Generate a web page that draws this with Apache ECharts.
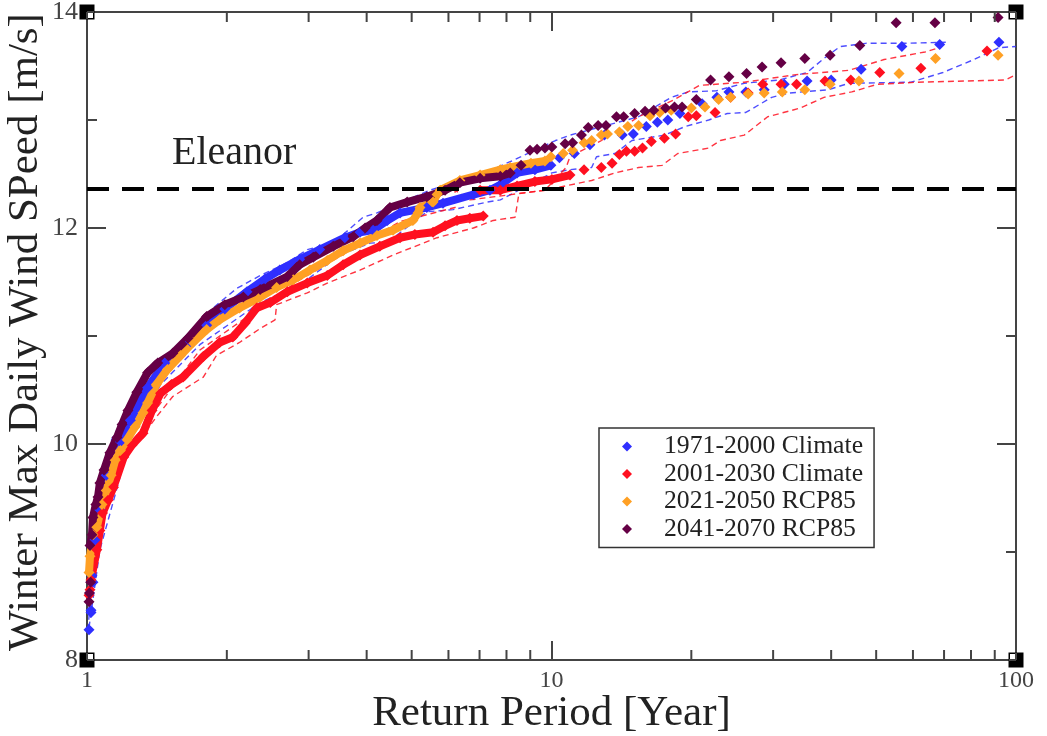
<!DOCTYPE html>
<html>
<head>
<meta charset="utf-8">
<title>Winter Max Daily Wind Speed</title>
<script src="https://cdn.jsdelivr.net/npm/echarts@6/dist/echarts.min.js"></script>
<style>
html, body { margin: 0; padding: 0; background: #fff; }
#chart { width: 1047px; height: 736px; }
</style>
</head>
<body>
<div id="chart"></div>
<script>
const seriesNames = [ '1971-2000 Climate', '2001-2030 Climate', '2021-2050 RCP85', '2041-2070 RCP85' ];
const minorXTicks = [ 2, 3, 4, 5, 6, 7, 8, 9, 20, 30, 40, 50, 60, 70, 80, 90 ];
const cornerPoints = [ [ 1, 8 ], [ 100, 8 ], [ 1, 14 ], [ 100, 14 ] ];
const eleanorLine = [ [ 1, 12.36 ], [ 100, 12.36 ] ];

// Dense part of each curve, where the markers merge into a band: [ return period, wind speed ]
const blueBand = [ [ 1.04, 9.11 ], [ 1.066, 9.39 ], [ 1.1, 9.71 ], [ 1.18, 10.02 ], [ 1.24, 10.22 ], [ 1.35, 10.52 ], [ 1.47, 10.75 ], [ 1.67, 10.95 ], [ 1.81, 11.1 ], [ 1.98, 11.25 ], [ 2.21, 11.41 ], [ 2.42, 11.53 ], [ 2.6, 11.61 ], [ 2.87, 11.71 ], [ 3.17, 11.8 ], [ 3.59, 11.91 ], [ 3.87, 11.96 ], [ 4.13, 11.98 ], [ 4.43, 12.07 ], [ 4.72, 12.14 ], [ 5.39, 12.19 ], [ 5.84, 12.23 ], [ 6.79, 12.31 ], [ 7.37, 12.35 ], [ 7.76, 12.4 ], [ 8.43, 12.51 ], [ 9.21, 12.54 ], [ 9.97, 12.58 ] ];
const redBand = [ [ 1.02, 8.74 ], [ 1.05, 9.02 ], [ 1.066, 9.2 ], [ 1.08, 9.36 ], [ 1.11, 9.48 ], [ 1.14, 9.6 ], [ 1.2, 9.88 ], [ 1.25, 9.99 ], [ 1.32, 10.1 ], [ 1.38, 10.31 ], [ 1.44, 10.47 ], [ 1.52, 10.55 ], [ 1.61, 10.62 ], [ 1.78, 10.81 ], [ 1.93, 10.94 ], [ 2.06, 10.99 ], [ 2.19, 11.12 ], [ 2.32, 11.26 ], [ 2.48, 11.31 ], [ 2.7, 11.41 ], [ 2.98, 11.49 ], [ 3.29, 11.56 ], [ 3.56, 11.66 ], [ 3.87, 11.75 ], [ 4.27, 11.83 ], [ 4.72, 11.91 ], [ 5.08, 11.94 ], [ 5.56, 11.96 ], [ 5.9, 12.02 ], [ 6.26, 12.07 ], [ 6.67, 12.09 ], [ 7.13, 12.11 ] ];
const redBandUpper = [ [ 7.02, 12.35 ], [ 7.76, 12.35 ], [ 8.43, 12.39 ], [ 9.21, 12.43 ], [ 10.02, 12.45 ], [ 10.96, 12.49 ] ];
const orangeBand = [ [ 1.01, 8.81 ], [ 1.015, 8.96 ], [ 1.03, 9.16 ], [ 1.05, 9.23 ], [ 1.077, 9.44 ], [ 1.1, 9.57 ], [ 1.127, 9.71 ], [ 1.15, 9.85 ], [ 1.18, 9.94 ], [ 1.22, 10.04 ], [ 1.27, 10.16 ], [ 1.32, 10.29 ], [ 1.35, 10.38 ], [ 1.41, 10.55 ], [ 1.49, 10.69 ], [ 1.59, 10.82 ], [ 1.69, 10.94 ], [ 1.81, 11.06 ], [ 1.93, 11.15 ], [ 2.13, 11.26 ], [ 2.36, 11.36 ], [ 2.56, 11.45 ], [ 2.78, 11.52 ], [ 3.02, 11.61 ], [ 3.29, 11.7 ], [ 3.56, 11.79 ], [ 3.87, 11.86 ], [ 4.21, 11.93 ], [ 4.56, 11.98 ], [ 5.03, 12.07 ], [ 5.16, 12.14 ], [ 5.21, 12.19 ], [ 5.56, 12.24 ], [ 5.67, 12.31 ], [ 5.76, 12.35 ], [ 6.35, 12.44 ], [ 7.02, 12.49 ], [ 7.76, 12.54 ], [ 8.15, 12.56 ], [ 9.03, 12.6 ], [ 9.68, 12.62 ] ];
const purpleBand = [ [ 1.015, 9.06 ], [ 1.025, 9.16 ], [ 1.03, 9.32 ], [ 1.045, 9.44 ], [ 1.056, 9.51 ], [ 1.066, 9.64 ], [ 1.088, 9.76 ], [ 1.12, 9.92 ], [ 1.16, 10.06 ], [ 1.19, 10.18 ], [ 1.225, 10.31 ], [ 1.28, 10.48 ], [ 1.35, 10.66 ], [ 1.42, 10.75 ], [ 1.53, 10.84 ], [ 1.65, 10.98 ], [ 1.81, 11.18 ], [ 1.98, 11.29 ], [ 2.17, 11.36 ], [ 2.36, 11.43 ], [ 2.7, 11.55 ], [ 2.87, 11.66 ], [ 3.07, 11.73 ], [ 3.39, 11.83 ], [ 3.74, 11.92 ], [ 3.97, 12 ], [ 4.21, 12.07 ], [ 4.49, 12.19 ], [ 4.89, 12.24 ], [ 5.39, 12.29 ], [ 5.9, 12.35 ], [ 6.35, 12.42 ], [ 7.02, 12.46 ], [ 7.76, 12.48 ], [ 8.15, 12.51 ] ];

// Separate markers at both ends of each curve
const bluePoints = [ [ 1.01, 8.28 ], [ 1.02, 8.44 ], [ 1.02, 8.46 ], [ 1.03, 8.72 ], [ 1.025, 8.78 ], [ 10.4, 12.65 ], [ 11.2, 12.69 ], [ 12.1, 12.77 ], [ 13, 12.86 ], [ 14.2, 12.86 ], [ 15, 12.87 ], [ 16, 12.94 ], [ 16.9, 12.98 ], [ 17.8, 13 ], [ 18.9, 13.06 ], [ 21.1, 13.15 ], [ 22.7, 13.21 ], [ 24.1, 13.26 ], [ 26.2, 13.26 ], [ 28.7, 13.28 ], [ 31.7, 13.33 ], [ 35.5, 13.36 ], [ 40, 13.37 ], [ 46.4, 13.47 ], [ 56.8, 13.68 ], [ 68.5, 13.7 ], [ 91.9, 13.72 ] ];
const redPoints = [ [ 1.01, 8.6 ], [ 1.015, 8.65 ], [ 11.75, 12.54 ], [ 12.8, 12.56 ], [ 13.5, 12.6 ], [ 14, 12.68 ], [ 14.5, 12.71 ], [ 15.1, 12.71 ], [ 15.7, 12.74 ], [ 16.4, 12.8 ], [ 17.5, 12.83 ], [ 18.5, 12.87 ], [ 19.7, 13.03 ], [ 20.5, 13.04 ], [ 22.5, 13.07 ], [ 24.3, 13.21 ], [ 26.5, 13.25 ], [ 28.5, 13.33 ], [ 31.2, 13.33 ], [ 33.7, 13.33 ], [ 38.8, 13.36 ], [ 44.1, 13.37 ], [ 50.9, 13.44 ], [ 62.4, 13.48 ], [ 86.6, 13.64 ] ];
const orangePoints = [ [ 9.97, 12.66 ], [ 10.6, 12.69 ], [ 11.1, 12.72 ], [ 11.75, 12.79 ], [ 12.2, 12.81 ], [ 12.8, 12.86 ], [ 13.2, 12.87 ], [ 14, 12.89 ], [ 14.6, 12.94 ], [ 15.4, 12.95 ], [ 16.3, 13.04 ], [ 17.1, 13.07 ], [ 18.1, 13.09 ], [ 20, 13.11 ], [ 21.4, 13.12 ], [ 22.9, 13.19 ], [ 24.3, 13.21 ], [ 26.5, 13.24 ], [ 28.7, 13.25 ], [ 31.4, 13.26 ], [ 35.1, 13.28 ], [ 39.8, 13.33 ], [ 45.9, 13.36 ], [ 56, 13.43 ], [ 67.1, 13.57 ], [ 91.5, 13.6 ] ];
const purplePoints = [ [ 1.01, 8.54 ], [ 1.012, 8.62 ], [ 1.018, 8.72 ], [ 8.6, 12.58 ], [ 8.99, 12.72 ], [ 9.31, 12.73 ], [ 9.68, 12.74 ], [ 10.02, 12.75 ], [ 10.7, 12.78 ], [ 11.1, 12.79 ], [ 11.6, 12.86 ], [ 12, 12.93 ], [ 12.6, 12.95 ], [ 13.1, 12.95 ], [ 13.8, 13.03 ], [ 14.3, 13.03 ], [ 15.1, 13.06 ], [ 15.9, 13.08 ], [ 16.6, 13.09 ], [ 17.6, 13.11 ], [ 18.4, 13.12 ], [ 19.1, 13.12 ], [ 20.5, 13.19 ], [ 22, 13.37 ], [ 24.1, 13.4 ], [ 26.3, 13.43 ], [ 28.4, 13.49 ], [ 31.2, 13.53 ], [ 35.1, 13.57 ], [ 39.8, 13.6 ], [ 46.1, 13.69 ], [ 55.2, 13.9 ], [ 66.9, 13.9 ], [ 91.5, 13.95 ] ];

// Thin dashed limits
const blueUpper = [ [ 1.005, 8.28 ], [ 1.02, 8.65 ], [ 1.045, 9.11 ], [ 1.08, 9.57 ], [ 1.13, 10.04 ], [ 1.24, 10.36 ], [ 1.44, 10.73 ], [ 1.65, 11.01 ], [ 1.78, 11.18 ], [ 1.93, 11.31 ], [ 2.1, 11.44 ], [ 2.36, 11.56 ], [ 2.7, 11.68 ], [ 2.98, 11.8 ], [ 3.39, 11.86 ], [ 3.93, 12.1 ], [ 4.21, 12.14 ], [ 5.47, 12.35 ], [ 7.02, 12.49 ], [ 8.6, 12.66 ], [ 10.2, 12.81 ], [ 10.96, 12.86 ], [ 15.4, 13.03 ], [ 18.1, 13.21 ], [ 19.7, 13.26 ], [ 22.6, 13.27 ], [ 26, 13.34 ], [ 30.9, 13.37 ], [ 35.5, 13.44 ], [ 38.6, 13.57 ], [ 41.8, 13.68 ], [ 47.5, 13.71 ], [ 56.5, 13.71 ], [ 70.6, 13.72 ] ];
const blueLower = [ [ 1.01, 8.3 ], [ 1.066, 9.02 ], [ 1.24, 10.04 ], [ 1.44, 10.55 ], [ 1.75, 10.92 ], [ 2.36, 11.31 ], [ 2.87, 11.47 ], [ 3.5, 11.75 ], [ 4.07, 11.86 ], [ 4.45, 11.87 ], [ 5.39, 12.15 ], [ 6.14, 12.17 ], [ 7.27, 12.24 ], [ 7.76, 12.26 ], [ 10.02, 12.51 ], [ 10.96, 12.54 ], [ 12.2, 12.56 ], [ 12.5, 12.66 ], [ 13.7, 12.69 ], [ 14.9, 12.81 ], [ 17.5, 12.86 ], [ 19.4, 12.94 ], [ 21.8, 13 ], [ 23.9, 13.06 ], [ 26.2, 13.07 ], [ 29.8, 13.21 ], [ 32.5, 13.25 ], [ 39.4, 13.28 ], [ 43.7, 13.34 ], [ 59.4, 13.35 ], [ 69.6, 13.44 ], [ 81.2, 13.56 ], [ 91.9, 13.67 ], [ 100, 13.68 ] ];
const redUpper = [ [ 1.015, 8.65 ], [ 1.066, 9.3 ], [ 1.15, 9.81 ], [ 1.75, 10.87 ], [ 2.87, 11.52 ], [ 4.72, 12.06 ], [ 6.2, 12.19 ], [ 6.2, 12.35 ], [ 6.67, 12.26 ], [ 9.68, 12.35 ], [ 10.75, 12.56 ], [ 10.96, 12.66 ], [ 12.8, 12.81 ], [ 15.4, 13.03 ], [ 18.4, 13.19 ], [ 20.8, 13.32 ], [ 26, 13.35 ], [ 33.6, 13.42 ], [ 43.7, 13.46 ], [ 52, 13.56 ], [ 63.7, 13.63 ], [ 68.3, 13.67 ] ];
const redLower = [ [ 1.025, 8.65 ], [ 1.09, 9.3 ], [ 1.15, 9.67 ], [ 1.2, 9.88 ], [ 1.3, 10.04 ], [ 1.41, 10.25 ], [ 1.53, 10.44 ], [ 1.78, 10.62 ], [ 1.9, 10.82 ], [ 2.13, 10.94 ], [ 2.36, 11.07 ], [ 2.54, 11.15 ], [ 2.56, 11.29 ], [ 2.98, 11.4 ], [ 3.29, 11.49 ], [ 3.87, 11.61 ], [ 4.56, 11.75 ], [ 5.67, 11.91 ], [ 6.79, 12 ], [ 7.49, 12.07 ], [ 8.35, 12.1 ], [ 8.43, 12.09 ], [ 8.51, 12.32 ], [ 9.68, 12.35 ], [ 12.2, 12.44 ], [ 13.7, 12.51 ], [ 15.4, 12.56 ], [ 17.3, 12.58 ], [ 18.7, 12.69 ], [ 21.8, 12.74 ], [ 23.1, 12.81 ], [ 26, 12.86 ], [ 29.2, 13.03 ], [ 34.3, 13.11 ], [ 38.6, 13.21 ], [ 44.3, 13.26 ], [ 50.2, 13.33 ], [ 61.5, 13.35 ], [ 94.7, 13.37 ], [ 100, 13.42 ] ];

const BLUE = '#2f2fff';
const RED = '#ff1020';
const ORANGE = '#ffa024';
const PURPLE = '#650045';
const INK = '#444';
const SERIF = '"Liberation Serif", serif';

const dashed = ( data, color ) => ( {
	type: 'line',
	data,
	symbol: 'none',
	lineStyle: { color, width: 1.4, type: [ 6, 4 ], opacity: 0.85 },
	z: 2
} );

const band = ( name, data, color ) => ( {
	name,
	type: 'line',
	data,
	symbol: 'diamond',
	symbolSize: 11,
	showAllSymbol: true,
	itemStyle: { color },
	lineStyle: { color, width: 8 },
	z: 3
} );

const markers = ( name, data, color ) => ( {
	name,
	type: 'scatter',
	data,
	symbol: 'diamond',
	symbolSize: 11,
	itemStyle: { color, opacity: 1 },
	z: 3
} );

// Log axes have no usable minor ticks, so they are drawn through the axis scale
const minorTicks = {
	type: 'custom',
	silent: true,
	clip: false,
	data: minorXTicks.map( ( v ) => [ v, 8 ] ),
	renderItem: ( params, api ) => {
		const bottom = api.coord( [ api.value( 0 ), 8 ] );
		const top = api.coord( [ api.value( 0 ), 14 ] );
		const style = { stroke: INK, lineWidth: 2 };
		return {
			type: 'group',
			children: [
				{ type: 'line', shape: { x1: bottom[ 0 ], y1: bottom[ 1 ], x2: bottom[ 0 ], y2: bottom[ 1 ] - 10 }, style },
				{ type: 'line', shape: { x1: top[ 0 ], y1: top[ 1 ], x2: top[ 0 ], y2: top[ 1 ] + 10 }, style }
			]
		};
	},
	z: 4
};

// Black handle squares on the frame corners, with a white notch on the inner side
const cornerHandles = {
	type: 'custom',
	silent: true,
	clip: false,
	data: cornerPoints,
	renderItem: ( params, api ) => {
		const [ x, y ] = api.coord( [ api.value( 0 ), api.value( 1 ) ] );
		const dirX = api.value( 0 ) === 1 ? 1 : -1;
		const dirY = api.value( 1 ) === 14 ? 1 : -1;
		const line = { stroke: INK, lineWidth: 2 };
		return {
			type: 'group',
			children: [
				{ type: 'rect', shape: { x: x - 7.5, y: y - 7.5, width: 15, height: 15 }, style: { fill: '#000' } },
				{ type: 'rect', shape: { x: Math.min( x + dirX, x + dirX * 6 ), y: Math.min( y + dirY, y + dirY * 6 ), width: 5, height: 5 }, style: { fill: '#fff' } },
				{ type: 'line', shape: { x1: x, y1: y, x2: x + dirX * 7, y2: y }, style: line },
				{ type: 'line', shape: { x1: x, y1: y, x2: x, y2: y + dirY * 7 }, style: line }
			]
		};
	},
	z: 6
};

const axisLine = { show: true, onZero: false, lineStyle: { color: INK, width: 2 } };
const majorTick = { show: true, inside: true, length: 19, lineStyle: { color: INK, width: 2 } };
const minorTick = { show: true, splitNumber: 2, length: 10, lineStyle: { color: INK, width: 2 } };

const chart = echarts.init( document.getElementById( 'chart' ), null, { renderer: 'canvas' } );

chart.setOption( {
	animation: false,
	backgroundColor: '#fff',
	grid: { left: 87, top: 12, width: 929, height: 648, outerBoundsMode: 'none' },
	xAxis: [
		{
			type: 'log',
			logBase: 10,
			min: 1,
			max: 100,
			position: 'bottom',
			name: 'Return Period [Year]',
			nameLocation: 'middle',
			nameMoveOverlap: false,
			nameGap: 32,
			nameTextStyle: { fontFamily: SERIF, fontSize: 43, color: '#222' },
			axisLine,
			axisTick: majorTick,
			minorTick: { show: false },
			splitLine: { show: false },
			minorSplitLine: { show: false },
			axisLabel: { fontFamily: SERIF, fontSize: 24, color: INK, margin: 9 }
		},
		{
			type: 'log',
			logBase: 10,
			min: 1,
			max: 100,
			position: 'top',
			axisLine,
			axisTick: majorTick,
			splitLine: { show: false },
			axisLabel: { show: false }
		}
	],
	yAxis: [
		{
			type: 'value',
			min: 8,
			max: 14,
			interval: 2,
			position: 'left',
			name: 'Winter Max Daily Wind SPeed [m/s]',
			nameLocation: 'middle',
			nameMoveOverlap: false,
			nameGap: 40,
			nameTextStyle: { fontFamily: SERIF, fontSize: 43, color: '#222', padding: [ 0, 0, 0, 8 ] },
			axisLine,
			axisTick: majorTick,
			minorTick,
			splitLine: { show: false },
			axisLabel: { fontFamily: SERIF, fontSize: 26, color: INK, margin: 9 }
		},
		{
			type: 'value',
			min: 8,
			max: 14,
			interval: 2,
			position: 'right',
			axisLine,
			axisTick: majorTick,
			minorTick,
			splitLine: { show: false },
			axisLabel: { show: false }
		}
	],
	legend: {
		left: 599,
		top: 428,
		orient: 'vertical',
		padding: [ 5, 11, 5, 23 ],
		itemGap: 0.5,
		itemWidth: 10,
		itemHeight: 10,
		borderColor: '#333',
		borderWidth: 1.5,
		borderRadius: 0,
		selectedMode: false,
		data: seriesNames.map( ( name ) => ( { name, icon: 'diamond' } ) ),
		textStyle: {
			fontFamily: SERIF,
			fontSize: 25.7,
			color: '#222',
			lineHeight: 27,
			padding: [ 0, 0, 0, 27 ]
		}
	},
	graphic: [ {
		type: 'text',
		left: 172,
		top: 133,
		style: { text: 'Eleanor', font: '40px ' + SERIF, fill: '#222' }
	} ],
	series: [
		dashed( blueUpper, BLUE ),
		dashed( blueLower, BLUE ),
		dashed( redUpper, RED ),
		dashed( redLower, RED ),
		markers( seriesNames[ 0 ], bluePoints, BLUE ),
		band( seriesNames[ 0 ], blueBand, BLUE ),
		markers( seriesNames[ 1 ], redPoints, RED ),
		band( seriesNames[ 1 ], redBand, RED ),
		band( seriesNames[ 1 ], redBandUpper, RED ),
		markers( seriesNames[ 2 ], orangePoints, ORANGE ),
		band( seriesNames[ 2 ], orangeBand, ORANGE ),
		markers( seriesNames[ 3 ], purplePoints, PURPLE ),
		band( seriesNames[ 3 ], purpleBand, PURPLE ),
		{
			type: 'line',
			data: eleanorLine,
			symbol: 'none',
			lineStyle: { color: '#000', width: 4, type: [ 22, 13 ] },
			z: 5
		},
		minorTicks,
		cornerHandles
	]
} );
</script>
</body>
</html>
